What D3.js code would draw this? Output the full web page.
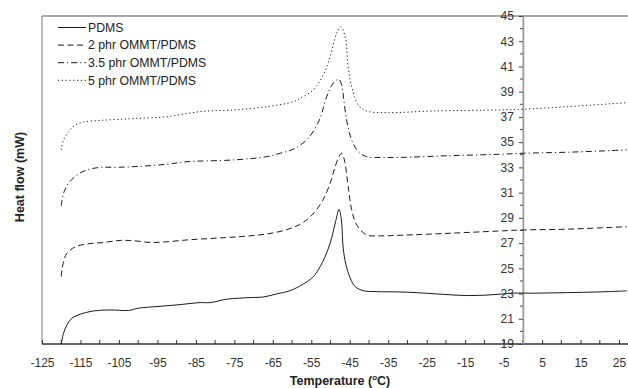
<!DOCTYPE html>
<html>
<head>
<meta charset="utf-8">
<script src="https://cdn.jsdelivr.net/npm/d3@7"></script>
<style>
  body { margin: 0; background: #fff; }
  svg { font-family: "Liberation Sans", Arial, sans-serif; }
</style>
</head>
<body>
<div class="chart"></div>
<script>
// temperature (°C), heat flow (mW)
const pdms = [
  [-120, 19.0], [-119.4, 19.86], [-118.5, 20.51], [-117.2, 21.05], [-115.05, 21.36],
  [-111.6, 21.62], [-107.3, 21.7], [-102.5, 21.66], [-99.9, 21.84], [-95.1, 21.97],
  [-89.9, 22.1], [-83.9, 22.28], [-81.3, 22.28], [-76.95, 22.55], [-70.9, 22.68],
  [-67.4, 22.73], [-64.0, 22.97], [-60.5, 23.23], [-57.05, 23.76], [-54.45, 24.34],
  [-52.7, 25.13], [-51.4, 25.93], [-50.1, 26.99], [-49.3, 27.9], [-48.6, 28.8],
  [-47.8, 29.68], [-47.2, 28.9], [-46.7, 26.6], [-46.0, 25.3], [-44.9, 24.24],
  [-43.6, 23.55], [-41.5, 23.23], [-38.0, 23.15], [-32.4, 23.13], [-27.6, 23.07],
  [-21.5, 22.95], [-14.6, 22.84], [-8.6, 22.89], [-2.5, 23.03], [2.7, 23.03],
  [11.4, 23.07], [20.05, 23.13], [27.0, 23.21]
];
const phr2 = [
  [-120, 24.34], [-119.5, 25.4], [-118.5, 26.2], [-116.35, 26.7], [-113.3, 26.93],
  [-109.0, 27.05], [-104.7, 27.21], [-101.2, 27.19], [-96.9, 27.05], [-93.0, 27.09],
  [-87.3, 27.25], [-80.4, 27.38], [-73.5, 27.51], [-66.6, 27.72], [-61.5, 28.05],
  [-57.5, 28.55], [-54.6, 29.3], [-52.0, 30.4], [-50.1, 31.74], [-48.8, 33.06],
  [-47.7, 33.91], [-47.1, 34.12], [-46.4, 33.59], [-45.4, 31.47], [-44.5, 29.63],
  [-43.2, 28.44], [-40.6, 27.65], [-37.1, 27.57], [-31.9, 27.62], [-18.9, 27.78],
  [-6.0, 27.96], [0, 28.04], [11.4, 28.1], [27.0, 28.3]
];
const phr35 = [
  [-120, 29.94], [-119.4, 30.95], [-118.1, 31.74], [-115.9, 32.4], [-113.3, 32.8],
  [-109.9, 33.0], [-105.5, 33.01], [-100.3, 33.07], [-92.5, 33.25], [-87.3, 33.45],
  [-75.2, 33.59], [-66.6, 33.85], [-63.1, 34.12], [-59.6, 34.45], [-56.2, 35.17],
  [-54.0, 36.1], [-52.6, 37.0], [-51.0, 38.6], [-49.7, 39.5], [-48.4, 39.93],
  [-47.8, 39.97], [-47.1, 39.53], [-46.6, 38.48], [-45.9, 36.9], [-45.3, 36.0],
  [-44.5, 35.17], [-42.8, 34.25], [-40.6, 33.85], [-37.1, 33.79], [-31.9, 33.79],
  [-18.9, 33.93], [-6.0, 34.04], [0, 34.12], [11.4, 34.2], [27.0, 34.38]
];
const phr5 = [
  [-120, 34.38], [-119.4, 35.17], [-118.1, 35.83], [-116.35, 36.36], [-114.2, 36.6],
  [-109.9, 36.72], [-105.5, 36.8], [-100.3, 36.88], [-92.5, 37.02], [-83.9, 37.42],
  [-75.2, 37.55], [-66.6, 37.81], [-59.6, 38.21], [-57.9, 38.48], [-54.5, 39.14],
  [-51.9, 40.32], [-50.1, 41.77], [-48.4, 43.63], [-47.3, 44.15], [-46.2, 43.36],
  [-45.4, 40.98], [-44.5, 39.4], [-42.8, 37.95], [-40.6, 37.47], [-35.4, 37.34],
  [-23.3, 37.47], [-6.0, 37.55], [0, 37.61], [11.4, 37.81], [27.0, 38.13]
];

const seriesNames = ['PDMS', '2 phr OMMT/PDMS', '3.5 phr OMMT/PDMS', '5 phr OMMT/PDMS'];
const seriesData = [pdms, phr2, phr35, phr5];
const dashes = ['none', '6,3.5', '6,3,1.2,3', '1.2,2.6'];

const xTickValues = d3.range(-125, 26, 10);
const xMinorValues = d3.range(-120, 27, 10);
const yTickValues = d3.range(19, 46, 2);
const yMinorValues = d3.range(20, 45, 2);

const WIDTH = 628, HEIGHT = 388;
const MARGINS = {top: 16, right: 0, bottom: 44, left: 42};

const svg = d3.select('.chart').append('svg')
  .attr('width', WIDTH)
  .attr('height', HEIGHT);

const xRange = d3.scaleLinear()
  .domain([-125, 27.2])
  .range([MARGINS.left, WIDTH - MARGINS.right - 0.5]);
const yRange = d3.scaleLinear()
  .domain([19, 45])
  .range([HEIGHT - MARGINS.bottom, MARGINS.top]);

// plain hyphen for negatives, like the original
const fmt = d => String(d);

// frame: top and left borders in grey
svg.append('line')
  .attr('x1', MARGINS.left).attr('x2', WIDTH)
  .attr('y1', MARGINS.top).attr('y2', MARGINS.top)
  .attr('stroke', '#8c8c8c').attr('stroke-width', 1.5);
svg.append('line')
  .attr('x1', MARGINS.left).attr('x2', MARGINS.left)
  .attr('y1', MARGINS.top).attr('y2', HEIGHT - MARGINS.bottom)
  .attr('stroke', '#8c8c8c').attr('stroke-width', 1.2);

// x axis, ticks pointing inside
const xAxis = d3.axisBottom(xRange)
  .tickValues(xTickValues)
  .tickFormat(fmt)
  .tickSizeInner(-4)
  .tickSizeOuter(0)
  .tickPadding(14);
const xAxisg = svg.append('g')
  .attr('transform', 'translate(0,' + (HEIGHT - MARGINS.bottom) + ')')
  .call(xAxis);
xAxisg.select('.domain')
  .attr('d', 'M' + MARGINS.left + ',0H' + WIDTH)
  .attr('stroke', '#333').attr('stroke-width', 1.3);
xAxisg.selectAll('.tick line').attr('stroke', '#333');
xAxisg.selectAll('.tick text')
  .style('font-size', '12px').attr('fill', '#333');
svg.append('g')
  .selectAll('line')
  .data(xMinorValues)
  .enter()
  .append('line')
  .attr('x1', d => xRange(d)).attr('x2', d => xRange(d))
  .attr('y1', HEIGHT - MARGINS.bottom).attr('y2', HEIGHT - MARGINS.bottom - 4)
  .attr('stroke', '#333');

// y axis sits at 0 °C
const yAxis = d3.axisLeft(yRange)
  .tickValues(yTickValues)
  .tickFormat(fmt)
  .tickSizeInner(4)
  .tickSizeOuter(0)
  .tickPadding(5);
const yAxisg = svg.append('g')
  .attr('transform', 'translate(' + xRange(0) + ',0)')
  .call(yAxis);
yAxisg.select('.domain').attr('stroke', '#9a9a9a').attr('stroke-width', 1.8);
yAxisg.selectAll('.tick line').attr('stroke', '#444');
yAxisg.selectAll('.tick text')
  .style('font-size', '12px').attr('fill', '#333');
svg.append('g')
  .selectAll('line')
  .data(yMinorValues)
  .enter()
  .append('line')
  .attr('x1', xRange(0)).attr('x2', xRange(0) - 3)
  .attr('y1', d => yRange(d)).attr('y2', d => yRange(d))
  .attr('stroke', '#444');

// curves
const lineFunction = d3.line()
  .x(d => xRange(d[0]))
  .y(d => yRange(d[1]))
  .curve(d3.curveCatmullRom.alpha(0.5));

seriesData.forEach((data, i) => {
  svg.append('path')
    .attr('d', lineFunction(data))
    .attr('fill', 'none')
    .attr('stroke', '#1a1a1a')
    .attr('stroke-width', 1)
    .attr('stroke-dasharray', dashes[i]);
});

// legend
const legend = svg.append('g');
seriesNames.forEach((name, i) => {
  const ly = 27.5 + i * 17.6;
  legend.append('line')
    .attr('x1', 58).attr('x2', 86)
    .attr('y1', ly).attr('y2', ly)
    .attr('stroke', '#1a1a1a')
    .attr('stroke-width', 1)
    .attr('stroke-dasharray', dashes[i]);
  legend.append('text')
    .attr('x', 88).attr('y', ly)
    .attr('dy', '0.35em')
    .style('font-size', '12.3px')
    .attr('fill', '#222')
    .text(name);
});

// axis titles
svg.append('text')
  .attr('transform', 'translate(24,177) rotate(-90)')
  .attr('text-anchor', 'middle')
  .style('font-size', '12.5px')
  .style('font-weight', 'bold')
  .attr('fill', '#222')
  .text('Heat flow (mW)');

const xTitle = svg.append('text')
  .attr('x', 340).attr('y', 385)
  .attr('text-anchor', 'middle')
  .style('font-size', '12.5px')
  .style('font-weight', 'bold')
  .attr('fill', '#222');
xTitle.append('tspan').text('Temperature (');
xTitle.append('tspan').attr('dy', -5).style('font-size', '8px').text('o');
xTitle.append('tspan').attr('dy', 5).text('C)');
</script>
</body>
</html>
